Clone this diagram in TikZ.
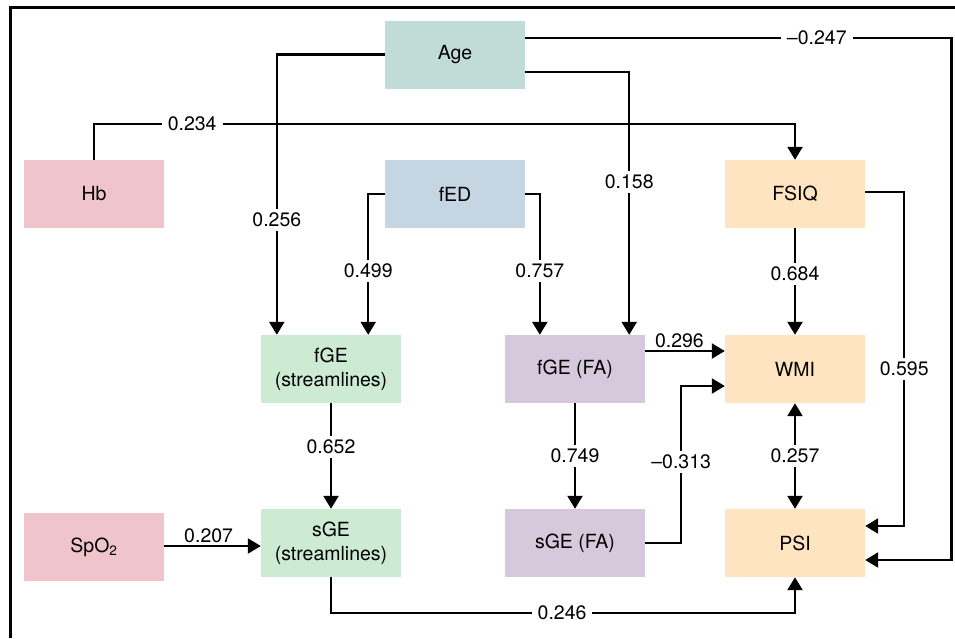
\documentclass[tikz,border=0pt]{standalone}
\usepackage{fontspec}
\setmainfont{TeX Gyre Heros}
\usetikzlibrary{arrows.meta}
\definecolor{cAge}{HTML}{C1DCD6}
\definecolor{cHb}{HTML}{EFC5CB}
\definecolor{cFed}{HTML}{C5D5E1}
\definecolor{cOut}{HTML}{FEE4C1}
\definecolor{cGrn}{HTML}{CDEBD3}
\definecolor{cPur}{HTML}{D6C9DB}
\tikzset{
  box/.style={rectangle, minimum width=140pt, minimum height=68pt, inner sep=0pt, align=center,
    font=\fontsize{19.5}{24}\selectfont},
  conn/.style={line width=2.3pt},
  arr/.style={conn, -{Triangle[length=13pt,width=15pt]}},
  darr/.style={conn, {Triangle[length=13pt,width=15pt]}-{Triangle[length=13pt,width=15pt]}},
  lab/.style={fill=white, inner xsep=6pt, inner ysep=4pt, font=\fontsize{19.5}{22}\selectfont},
  labp/.style={inner sep=2pt, font=\fontsize{19.5}{22}\selectfont},
}
\begin{document}
\begin{tikzpicture}[x=1pt,y=-1pt]
\useasboundingbox (0,0) rectangle (955,638);
\draw[line width=2.3pt] (955,7.5) -- (10.5,7.5) -- (10.5,638);
\node[box, fill=cAge] (age) at (455,54.5) {Age};
\node[box, fill=cHb] (hb) at (94,194) {Hb};
\node[box, fill=cFed] (fed) at (455,194) {fED};
\node[box, fill=cOut] (fsiq) at (795,194) {FSIQ};
\node[box, fill=cGrn] (fgeS) at (331,369) {fGE\\(streamlines)};
\node[box, fill=cGrn] (sgeS) at (331,543) {sGE\\(streamlines)};
\node[box, fill=cHb] (spo) at (94,547) {SpO\textsubscript{2}};
\node[box, fill=cPur] (fgeF) at (575,369) {fGE (FA)};
\node[box, fill=cPur] (sgeF) at (575,543) {sGE (FA)};
\node[box, fill=cOut] (wmi) at (795,369) {WMI};
\node[box, fill=cOut] (psi) at (795,543) {PSI};
\coordinate (r1) at (951.5,37.7);
% Age
\draw[arr] (age.west) -| node[lab, pos=0.795] (l1) {0.256} ([xshift=16pt]fgeS.north west);
\draw[arr] (age.east |- r1) -- node[lab, pos=0.684] (l2) {–0.247} (r1) |- ([yshift=-17pt]psi.east);
\draw[arr] ([yshift=-17.5pt]age.east) -| node[lab, pos=0.709] (l3) {0.158} ([xshift=-16pt]fgeF.north east);
% Hb
\draw[arr] (hb.north) -- ++(0,-36) -| node[lab, pos=0.07] (l4) {0.234} (fsiq.north);
% fED
\draw[arr] (fed.west) -| node[lab, pos=0.773] (l5) {0.499} ([xshift=-33pt]fgeS.north east);
\draw[arr] (fed.east) -| node[lab, pos=0.773] (l6) {0.757} ([xshift=35pt]fgeF.north west);
% FSIQ
\draw[arr] (fsiq.south) -- node[lab, pos=0.43] (l7) {0.684} (wmi.north);
\draw[arr] ([yshift=2pt]fsiq.east) -- ++(39,0) |- node[lab, pos=0.265] (l8) {0.595} ([yshift=17pt]psi.east);
% fGE (FA)
\draw[arr] ([yshift=18pt]fgeF.east) -- node[labp, above, pos=0.43] (l9) {0.296} ([yshift=18pt]wmi.west);
\draw[arr] (fgeF.south) -- node[lab, pos=0.5] (l10) {0.749} (sgeF.north);
% sGE (FA)
\draw[arr] (sgeF.east) -- ++(36,0) |- node[lab, pos=0.258] (l11) {–0.313} ([yshift=-17pt]wmi.west);
% WMI - PSI
\draw[darr] (wmi.south) -- node[lab, pos=0.5] (l12) {0.257} (psi.north);
% streamlines
\draw[arr] (fgeS.south) -- node[lab, pos=0.415] (l13) {0.652} (sgeS.north);
\draw[arr] ([yshift=1pt]spo.east) -- node[labp, above, pos=0.46] (l14) {0.207} ([yshift=1pt]spo.east -| sgeS.west);
\draw[arr] (sgeS.south) -- ++(0,36) -| node[lab, pos=0.249] (l15) {0.246} (psi.south);
\end{tikzpicture}
\end{document}
